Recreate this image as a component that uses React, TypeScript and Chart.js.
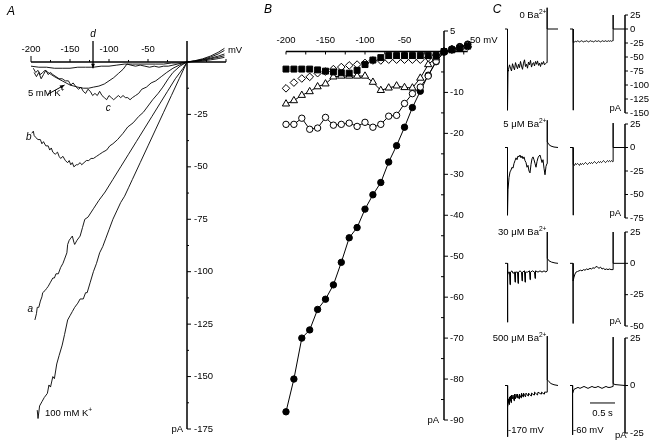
import React, { useEffect, useRef } from 'react';
import { Chart, registerables } from 'chart.js';
Chart.register(...registerables);

const W = 651;
const H = 441;
const FONT = '"Liberation Sans", Arial, Helvetica, sans-serif';

// ---------------- Panel A : ramp I-V traces (mV, pA) ----------------
const A_X_LABELS = [-200, -150, -100, -50];
const A_Y_LABELS = [-25, -50, -75, -100, -125, -150, -175];

const A_100MM = [[-192,-166],[-191,-170],[-189,-164],[-186,-162],[-183,-160],[-179,-158],[-177,-154],[-175,-155],[-172,-150],[-170,-151],[-167,-144],[-164,-140],[-160,-135],[-157,-130],[-153,-123],[-150,-121],[-147,-119],[-144,-117],[-140,-115],[-137,-113],[-133,-113],[-130,-110],[-128,-110],[-124,-105],[-120,-100],[-116,-96],[-112,-91],[-108,-88],[-104,-84],[-100,-80],[-95,-75],[-90,-71],[-85,-67],[-80,-64],[-75,-60],[-70,-56],[-60,-48],[-50,-40],[-40,-32],[-30,-24],[-20,-16],[-10,-8],[0,0],[10,0.6],[20,1.5],[30,2.8],[40,4.6],[48,6.5]];
const A_TRACE_A = [[-195,-123],[-193,-120],[-192,-117],[-190,-117],[-188,-114],[-186,-112],[-185,-110],[-182,-109],[-180,-108],[-178,-107],[-175,-105],[-172,-103],[-170,-103],[-168,-101],[-165,-101],[-162,-98],[-159,-96],[-157,-94],[-154,-91],[-153,-87],[-151,-85],[-149,-84],[-147,-83],[-145,-86],[-144,-87],[-141,-85],[-137,-83],[-134,-79],[-131,-75],[-127,-74],[-120,-70],[-113,-66],[-105,-62],[-95,-56],[-85,-50],[-75,-44],[-65,-38],[-55,-32],[-45,-26],[-35,-20],[-25,-14],[-15,-8],[-5,-3],[0,0],[10,0.5],[20,1.2],[30,2.3],[40,3.8],[48,5.5]];
const A_TRACE_B = [[-199,-34],[-197,-33],[-196,-35],[-194,-36],[-191,-37],[-188,-37],[-186,-39],[-184,-38],[-181,-40],[-178,-40],[-176,-42],[-174,-41],[-172,-43],[-169,-44],[-166,-43],[-164,-45],[-162,-46],[-159,-45],[-156,-47],[-153,-48],[-151,-47],[-149,-49],[-147,-48],[-145,-50],[-142,-49],[-140,-49],[-137,-48],[-135,-49],[-132,-48],[-129,-47],[-126,-47],[-123,-46],[-120,-46],[-116,-45],[-112,-44],[-108,-43],[-103,-42],[-99,-40],[-95,-39],[-89,-37],[-82,-34],[-76,-31],[-69,-29],[-62,-26],[-56,-24],[-50,-21],[-44,-18],[-37,-15],[-31,-12],[-24,-8],[-18,-5],[-9,-2],[0,0],[10,0.4],[20,1.0],[30,1.8],[40,2.8],[48,3.8]];
const A_TRACE_C = [[-196,-5],[-193,-7],[-190,-5],[-187,-8],[-184,-6],[-181,-4],[-178,-6],[-175,-5],[-172,-6],[-168,-7],[-164,-8],[-160,-8],[-156,-9],[-152,-9],[-149,-11],[-146,-10],[-142,-12],[-139,-13],[-136,-12],[-133,-14],[-130,-15],[-127,-13],[-124,-14],[-121,-16],[-118,-15],[-115,-16],[-112,-14],[-109,-16],[-106,-17],[-103,-18],[-100,-16],[-97,-17],[-94,-18],[-91,-17],[-88,-16],[-85,-17],[-82,-16],[-79,-17],[-76,-17],[-73,-18],[-70,-17],[-66,-16],[-62,-15],[-58,-13],[-52,-12],[-46,-10],[-40,-9],[-33,-7],[-26,-5],[-18,-3],[-10,-1.5],[0,0]];
const A_5MM = [[-197,-3],[-194,-5],[-191,-4],[-188,-6],[-185,-5],[-182,-4],[-178,-5],[-174,-6],[-170,-7],[-165,-8],[-160,-9],[-155,-10],[-150,-11],[-145,-11.5],[-140,-12],[-133,-12.5],[-126,-12.5],[-120,-12],[-113,-11.5],[-106,-10.5],[-100,-9],[-94,-7.5],[-88,-5.5],[-82,-3.5],[-77,-1],[-72,-1.5],[-66,-2],[-60,-1.5],[-54,-2],[-48,-2.5],[-42,-2],[-36,-2.5],[-30,-2],[-24,-2],[-18,-1.5],[-12,-1],[-6,-0.5],[0,0],[10,0.3],[20,0.8],[30,1.5],[40,2.2],[48,3]];
const A_TRACE_D = [[-200,-2],[-190,-2.5],[-180,-2.5],[-170,-3],[-160,-3],[-150,-3],[-140,-2.5],[-130,-2.5],[-120,-2.5],[-110,-2],[-100,-2],[-90,-1.5],[-80,-1],[-70,-1],[-60,-1],[-50,-1],[-40,-1],[-30,-1],[-20,-0.5],[-10,-0.5],[0,0],[10,0.2],[20,0.5],[30,1],[40,1.6],[48,2.2]];

// ---------------- Panel B : steady-state I-V (mV, pA) ----------------
const B_X_LABELS = [-200, -150, -100, -50];
const B_Y_LABELS = [5, -10, -20, -30, -40, -50, -60, -70, -80, -90];
const B_V = [-200,-190,-180,-170,-160,-150,-140,-130,-120,-110,-100,-90,-80,-70,-60,-50,-40,-30,-20,-10,0,10,20,30];
const B_FILLED_CIRCLES = [-88,-80,-70,-68,-63,-60.5,-57,-51.5,-45.5,-43,-38.5,-35,-32,-27,-23,-18.5,-13.7,-9.7,-5.8,-2.5,0,0.6,1.2,1.8];
const B_OPEN_CIRCLES = [-17.8,-17.8,-16.3,-19.0,-18.7,-16.1,-18.0,-17.8,-17.5,-18.3,-17.3,-18.5,-17.8,-15.8,-15.6,-12.7,-10.3,-8.7,-6.0,-2.4,-0.2,0.5,1.0,1.6];
const B_TRIANGLES = [-12.8,-12.0,-10.7,-9.8,-8.6,-7.9,-6.2,-6.0,-6.0,-6.0,-6.0,-7.5,-9.5,-8.9,-8.4,-8.8,-8.9,-6.5,-3.2,-1.5,0,0.5,1.0,1.5];
const B_DIAMONDS = [-9.0,-7.6,-6.6,-6.2,-5.3,-4.9,-4.3,-3.8,-3.4,-3.2,-2.8,-2.2,-2.2,-2.0,-2.0,-2.0,-2.0,-2.0,-1.5,-0.9,0,0.4,0.8,1.2];
const B_SQUARES = [-4.3,-4.3,-4.3,-4.3,-4.5,-4.8,-5.0,-5.2,-5.3,-4.6,-3.2,-2.1,-1.5,-1.0,-1.0,-1.0,-1.0,-1.0,-1.0,-1.0,0,0.4,0.8,1.3];

// ---------------- Panel C : current traces (s, pA) ----------------
const C_ROW_LABELS = ['0 Ba', '5 \u03bcM Ba', '30 \u03bcM Ba', '500 \u03bcM Ba'];
const C_Y_TICKS = [[25,0,-25,-50,-75,-100,-125,-150],[25,0,-25,-50,-75],[25,0,-25,-50],[25,0,-25]];
const C_DT = 0.02;
const C1L_LEVEL = [-72,-64,-70,-75,-62,-68,-73,-60,-66,-71,-63,-69,-58,-66,-72,-61,-55,-67,-63,-70,-59,-64,-56,-68,-62,-60,-66,-58,-63,-57,-65,-61,-67,-60,-63,-58,-64,-62,-60];
const C1R_LEVEL = [-24,-23,-22,-23,-21,-22,-23,-22,-21,-22,-23,-22,-22,-21,-22,-23,-22,-21,-22,-22,-23,-22,-21,-22,-22,-21,-22,-23,-22,-21,-22,-22,-21,-22,-22,-21,-22,-21,-22,-21];
const C2L_LEVEL = [-45,-32,-26,-24,-21,-22,-17,-14,-11,-13,-9,-10,-8,-11,-9,-12,-10,-14,-16,-21,-19,-25,-27,-18,-12,-10,-13,-17,-21,-15,-11,-9,-8,-12,-16,-13,-22,-29,-20,-17];
const C2R_LEVEL = [-18,-19,-17,-18,-17,-18,-19,-17,-18,-17,-18,-17,-16,-17,-18,-17,-16,-17,-16,-17,-16,-15,-16,-17,-16,-15,-16,-15,-16,-15,-14,-15,-16,-15,-14,-15,-14,-15,-14,-15];
const C3L = [[0,0],[0.05,0],[0.05,-47],[0.055,-9],[0.07,-7],[0.09,-7],[0.10,-17],[0.11,-7],[0.14,-6],[0.16,-8],[0.19,-7],[0.20,-15],[0.21,-7],[0.25,-7],[0.26,-16],[0.27,-7],[0.30,-6],[0.33,-7],[0.34,-14],[0.35,-7],[0.39,-6],[0.40,-15],[0.41,-7],[0.45,-7],[0.49,-6],[0.50,-13],[0.51,-7],[0.55,-6],[0.59,-7],[0.60,-12],[0.61,-6],[0.66,-7],[0.70,-6],[0.74,-7],[0.78,-6],[0.82,-7],[0.84,-6],[0.84,25],[0.85,4],[0.88,2],[0.93,1],[1.0,0.3],[1.06,0]];
const C3R = [[0,0],[0.06,0],[0.06,-48],[0.065,-14],[0.08,-11],[0.10,-8.5],[0.12,-7],[0.15,-6.5],[0.18,-6],[0.21,-5.5],[0.24,-6],[0.27,-5],[0.30,-5.5],[0.33,-4.5],[0.36,-5],[0.40,-4],[0.43,-4.5],[0.46,-3.5],[0.49,-4],[0.52,-2.5],[0.55,-3],[0.58,-4],[0.61,-3],[0.64,-4.5],[0.67,-4],[0.70,-5],[0.73,-4.5],[0.76,-5],[0.79,-4.5],[0.82,-5],[0.86,-5],[0.86,25],[0.865,0],[1.1,0]];
const C4L = [[0,0],[0.05,0],[0.05,-27],[0.055,-11],[0.06,-9],[0.07,-7],[0.08,-10],[0.09,-6],[0.10,-8],[0.11,-5.5],[0.12,-9],[0.13,-5],[0.15,-7],[0.16,-5],[0.18,-8],[0.19,-4.5],[0.21,-7],[0.22,-4.5],[0.24,-6.5],[0.25,-4.5],[0.28,-7],[0.29,-4.5],[0.32,-6.5],[0.33,-4],[0.36,-6],[0.37,-4],[0.41,-6],[0.42,-4],[0.46,-5.5],[0.47,-4],[0.52,-5.5],[0.53,-4],[0.58,-5],[0.59,-3.5],[0.65,-5],[0.66,-3.5],[0.72,-4.5],[0.73,-3.5],[0.78,-4.5],[0.79,-3.5],[0.84,-3.5],[0.84,26],[0.85,3],[0.88,2],[0.92,1],[0.98,0.4],[1.06,0]];
const C4R = [[0,0],[0.05,0],[0.05,-26],[0.055,-4],[0.08,-2],[0.12,-1.5],[0.16,-1],[0.20,-1.5],[0.24,-1],[0.28,-0.5],[0.32,-1],[0.36,-1.5],[0.40,-1],[0.44,-0.5],[0.48,-1],[0.52,-1],[0.56,-0.5],[0.60,-1],[0.64,-1.5],[0.68,-1],[0.72,-0.5],[0.76,-1],[0.80,-1],[0.86,-0.5],[0.86,25.5],[0.865,1],[0.9,0.5],[1.1,0]];

function levelTrace(pre, level, t0, post) {
  return [...pre, ...level.map((v, i) => [t0 + C_DT * i, v]), ...post];
}
const C1L = levelTrace([[0,0],[0.05,0],[0.05,-145],[0.06,-75]], C1L_LEVEL, 0.07, [[0.84,-60],[0.84,38],[0.845,0],[1.06,0]]);
const C1R = levelTrace([[0,0],[0.06,0],[0.06,-145],[0.065,-30]], C1R_LEVEL, 0.07, [[0.86,-21],[0.86,25],[0.865,0],[1.1,0]]);
const C2L = levelTrace([[0,0],[0.05,0],[0.05,-72]], C2L_LEVEL, 0.06, [[0.84,29],[0.85,6],[0.88,3],[0.92,1.5],[0.98,0.5],[1.06,0]]);
const C2R = levelTrace([[0,0],[0.06,0],[0.06,-72],[0.065,-20]], C2R_LEVEL, 0.07, [[0.86,-15],[0.86,26],[0.865,0],[1.1,0]]);
const C_LEFT = [C1L, C2L, C3L, C4L];
const C_RIGHT = [C1R, C2R, C3R, C4R];

// ---------------- layout (pixel frames) ----------------
const A_FRAME = { left: 31, right: 226, top: 41, bottom: 429, x: [-200, 50], y: [-175, 10] };
const B_FRAME = { left: 286, right: 483.5, top: 31, bottom: 420, x: [-200, 50], y: [-90, 5] };
const C_ROW_PX = [[15, 113], [124, 218], [232, 326], [338, 433]];
const C_COL_PX = [[505, 560], [570, 625]];
const C_T = [0, 1.1];

// ---------------- drawing helpers ----------------
function seg(ctx, x1, y1, x2, y2) {
  ctx.beginPath(); ctx.moveTo(x1, y1); ctx.lineTo(x2, y2); ctx.stroke();
}
function txt(ctx, s, x, y, align = 'left', size = 9.5, style = '') {
  ctx.font = `${style} ${size}px ${FONT}`;
  ctx.textAlign = align; ctx.textBaseline = 'middle'; ctx.fillStyle = '#000';
  ctx.fillText(s, x, y);
}
function supTxt(ctx, base, sup, x, y, align = 'left', size = 9.5) {
  ctx.font = `${size}px ${FONT}`;
  const wb = ctx.measureText(base).width;
  ctx.font = `${size * 0.7}px ${FONT}`;
  const ws = ctx.measureText(sup).width;
  const start = align === 'right' ? x - wb - ws : x;
  txt(ctx, base, start, y, 'left', size);
  txt(ctx, sup, start + wb, y - size * 0.35, 'left', size * 0.7);
}
function arrow(ctx, x1, y1, x2, y2) {
  seg(ctx, x1, y1, x2, y2);
  const a = Math.atan2(y2 - y1, x2 - x1);
  ctx.beginPath();
  ctx.moveTo(x2, y2);
  ctx.lineTo(x2 - 5 * Math.cos(a - 0.4), y2 - 5 * Math.sin(a - 0.4));
  ctx.lineTo(x2 - 5 * Math.cos(a + 0.4), y2 - 5 * Math.sin(a + 0.4));
  ctx.closePath(); ctx.fill();
}

function decoA(ctx, xs, ys) {
  const X = (v) => xs.getPixelForValue(v), Y = (v) => ys.getPixelForValue(v);
  ctx.save();
  ctx.strokeStyle = '#000'; ctx.fillStyle = '#000';
  ctx.lineWidth = 1.5;
  seg(ctx, X(-200), Y(0), X(50), Y(0));
  seg(ctx, X(0), Y(10), X(0), Y(-175));
  ctx.lineWidth = 1;
  for (let v = -200; v <= 50; v += 25) {
    const len = v === -200 ? 6 : (v % 50 === 0 ? 3 : 2);
    if (v !== 0) seg(ctx, X(v), Y(0), X(v), Y(0) - len);
  }
  for (let v = -12.5; v >= -175; v -= 12.5) {
    const major = v % 25 === 0;
    seg(ctx, X(0), Y(v), X(0) + (major ? 4 : 2), Y(v));
  }
  A_X_LABELS.forEach((v) => txt(ctx, String(v), X(v), Y(0) - 13, 'center'));
  A_Y_LABELS.forEach((v) => txt(ctx, String(v), X(0) + 7, Y(v), 'left'));
  txt(ctx, 'mV', X(52.5), Y(5.5), 'left');
  txt(ctx, 'pA', X(0) - 4, Y(-175), 'right');
  // trace annotations
  txt(ctx, 'a', X(-201), Y(-118), 'center', 10, 'italic');
  txt(ctx, 'b', X(-203), Y(-36), 'center', 10, 'italic');
  txt(ctx, 'c', X(-101), Y(-22), 'center', 10, 'italic');
  txt(ctx, 'd', X(-120.5), Y(13), 'center', 10, 'italic');
  ctx.lineWidth = 1.3;
  arrow(ctx, X(-120.5), Y(10), X(-120.5), Y(-3));
  supTxt(ctx, '5 mM K', '+', X(-204), Y(-15), 'left', 9.5);
  ctx.lineWidth = 1;
  arrow(ctx, X(-179), Y(-15.5), X(-157), Y(-11));
  supTxt(ctx, '100 mM K', '+', X(-182), Y(-167.5), 'left', 9.5);
  // panel letters
  txt(ctx, 'A', 11, 12, 'center', 12, 'italic');
  txt(ctx, 'B', 268, 10, 'center', 12, 'italic');
  txt(ctx, 'C', 497, 10, 'center', 12, 'italic');
  ctx.restore();
}

function decoB(ctx, xs, ys) {
  const X = (v) => xs.getPixelForValue(v), Y = (v) => ys.getPixelForValue(v);
  ctx.save();
  ctx.strokeStyle = '#000';
  ctx.lineWidth = 1.5;
  seg(ctx, X(-200), Y(0), X(30), Y(0));
  seg(ctx, X(0), Y(5), X(0), Y(-90));
  ctx.lineWidth = 1;
  for (let v = -200; v <= 25; v += 25) {
    if (v !== 0) seg(ctx, X(v), Y(0), X(v), Y(0) + 3);
  }
  seg(ctx, X(0), Y(5), X(0) + 4, Y(5));
  for (let v = -5; v >= -90; v -= 5) {
    const major = v % 10 === 0;
    if (major) seg(ctx, X(0), Y(v), X(0) + 4, Y(v));
    else seg(ctx, X(0), Y(v), X(0) - 3, Y(v));
  }
  B_X_LABELS.forEach((v) => txt(ctx, String(v), X(v), Y(0) - 11, 'center'));
  B_Y_LABELS.forEach((v) => txt(ctx, String(v), X(0) + 6, Y(v), 'left'));
  txt(ctx, '50 mV', X(33), Y(2.7), 'left');
  txt(ctx, 'pA', X(0) - 5, Y(-90), 'right');
  ctx.restore();
}

function decoC(row, col) {
  return (ctx, xs, ys) => {
    const X = (v) => xs.getPixelForValue(v), Y = (v) => ys.getPixelForValue(v);
    ctx.save();
    ctx.strokeStyle = '#000'; ctx.lineWidth = 1;
    const ticks = C_Y_TICKS[row];
    if (col === 0) {
      supTxt(ctx, C_ROW_LABELS[row], '2+', X(0.83), Y(25), 'right', 9.5);
      if (row === 3) txt(ctx, '-170 mV', X(0.06), ys.bottom - 3, 'left');
    } else {
      const ax = X(1.1);
      ctx.lineWidth = 1.5;
      seg(ctx, ax, Y(25), ax, Y(ticks[ticks.length - 1]));
      ctx.lineWidth = 1;
      ticks.forEach((v) => seg(ctx, ax, Y(v), ax + 3, Y(v)));
      ticks.forEach((v) => txt(ctx, String(v), ax + 5, Y(v), 'left'));
      if (row < 3) txt(ctx, 'pA', ax - 4, ys.bottom - 5, 'right');
      else {
        txt(ctx, '-60 mV', X(0.06), ys.bottom - 3, 'left');
        txt(ctx, 'pA', ax - 10, ys.bottom + 2, 'left');
        seg(ctx, X(0.4), Y(-9.2), X(0.9), Y(-9.2));
        txt(ctx, '0.5 s', X(0.65), Y(-14.5), 'center');
      }
    }
    ctx.restore();
  };
}

const lineDs = (pts, width = 0.9) => ({
  data: pts.map(([x, y]) => ({ x, y })),
  showLine: true, borderColor: '#000', borderWidth: width, pointRadius: 0,
  fill: false, tension: 0, clip: false,
});
const markerDs = (vals, style, filled, radius, withLine) => ({
  data: B_V.map((v, i) => ({ x: v, y: vals[i] })),
  showLine: withLine, borderColor: '#000', borderWidth: 1,
  pointStyle: style, pointRadius: radius, pointBorderWidth: 1,
  pointBackgroundColor: filled ? '#000' : '#fff', pointBorderColor: '#000',
  backgroundColor: filled ? '#000' : '#fff',
  fill: false, tension: 0, clip: false,
});

function frameSpec(frame, xr, yr, datasets, deco) {
  return { padding: { left: frame.left, top: frame.top, right: W - frame.right, bottom: H - frame.bottom }, xr, yr, datasets, deco };
}

const SPECS = [
  frameSpec(A_FRAME, A_FRAME.x, A_FRAME.y, [
    lineDs(A_TRACE_D), lineDs(A_5MM), lineDs(A_TRACE_C), lineDs(A_TRACE_B), lineDs(A_TRACE_A), lineDs(A_100MM),
  ], decoA),
  frameSpec(B_FRAME, B_FRAME.x, B_FRAME.y, [
    markerDs(B_SQUARES, 'rect', true, 4.2, false),
    markerDs(B_DIAMONDS, 'rectRot', false, 3.8, false),
    markerDs(B_TRIANGLES, 'triangle', false, 4.2, true),
    markerDs(B_OPEN_CIRCLES, 'circle', false, 3.2, true),
    markerDs(B_FILLED_CIRCLES, 'circle', true, 3.2, true),
  ], decoB),
];
C_ROW_PX.forEach(([top, bottom], row) => {
  const ticks = C_Y_TICKS[row];
  const yr = [ticks[ticks.length - 1], 25];
  C_COL_PX.forEach(([left, right], col) => {
    const trace = col === 0 ? C_LEFT[row] : C_RIGHT[row];
    SPECS.push(frameSpec({ left, right, top, bottom }, C_T, yr, [lineDs(trace, 1)], decoC(row, col)));
  });
});

function build(canvas, spec) {
  return new Chart(canvas, {
    type: 'scatter',
    data: { datasets: spec.datasets },
    options: {
      animation: false, responsive: false, maintainAspectRatio: false,
      devicePixelRatio: 1, events: [],
      layout: { padding: spec.padding },
      plugins: { legend: { display: false }, tooltip: { enabled: false }, title: { display: false } },
      scales: {
        x: { type: 'linear', min: spec.xr[0], max: spec.xr[1], display: false },
        y: { type: 'linear', min: spec.yr[0], max: spec.yr[1], display: false },
      },
    },
    plugins: [{ id: 'deco', afterDraw: (c) => spec.deco(c.ctx, c.scales.x, c.scales.y) }],
  });
}

export default function App() {
  const refs = useRef([]);
  useEffect(() => {
    const charts = SPECS.map((s, i) => build(refs.current[i], s));
    return () => charts.forEach((c) => c.destroy());
  }, []);
  return (
    <div style={{ position: 'absolute', left: 0, top: 0, width: W, height: H, background: '#fff', overflow: 'hidden' }}>
      {SPECS.map((_, i) => (
        <canvas key={i} ref={(el) => { refs.current[i] = el; }} width={W} height={H}
          style={{ position: 'absolute', left: 0, top: 0, width: W, height: H }} />
      ))}
    </div>
  );
}
